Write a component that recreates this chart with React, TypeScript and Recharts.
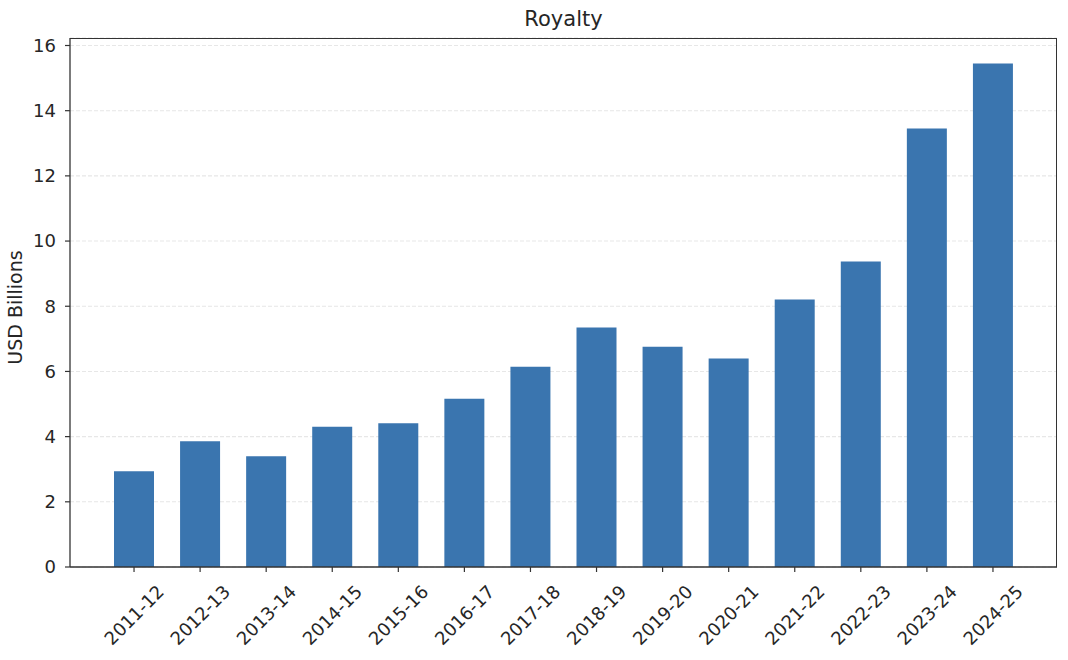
import { BarChart, Bar, XAxis, YAxis, CartesianGrid } from "recharts";

const years = [
  "2011-12", "2012-13", "2013-14", "2014-15", "2015-16", "2016-17", "2017-18",
  "2018-19", "2019-20", "2020-21", "2021-22", "2022-23", "2023-24", "2024-25",
];
const royalty = [2.94, 3.86, 3.4, 4.3, 4.41, 5.16, 6.14, 7.35, 6.76, 6.4, 8.21, 9.37, 13.45, 15.45];
const yTicks = [0, 2, 4, 6, 8, 10, 12, 14, 16];

const data = years.map((year, i) => ({ year, royalty: royalty[i] }));

const FONT = "'DejaVu Sans', sans-serif";
const INK = "#262626";
const SPINE = "#333333";

function XTick(props: any) {
  const { x, y, payload } = props;
  return (
    <g transform={`translate(${x},${y + 41})`}>
      <text
        transform="rotate(-45)"
        textAnchor="middle"
        dominantBaseline="central"
        fontFamily={FONT}
        fontSize={18}
        fill={INK}
      >
        {payload.value}
      </text>
    </g>
  );
}

function YLabel(props: any) {
  const vb = props.viewBox;
  const cx = vb.x + 15;
  const cy = vb.y + vb.height / 2 + 5;
  return (
    <text
      x={cx}
      y={cy}
      transform={`rotate(-90 ${cx} ${cy})`}
      textAnchor="middle"
      dominantBaseline="central"
      fontFamily={FONT}
      fontSize={19}
      fill={INK}
    >
      USD Billions
    </text>
  );
}

export default function App() {
  return (
    <div style={{ position: "absolute", left: 0, top: 0, width: 1068, height: 660, background: "#fff" }}>
      <div
        style={{
          position: "absolute",
          left: 70,
          width: 987,
          top: 7,
          textAlign: "center",
          fontFamily: FONT,
          fontSize: 21,
          color: INK,
          lineHeight: "normal",
        }}
      >
        Royalty
      </div>
      <BarChart width={1068} height={660} data={data} margin={{ top: 38, right: 11, bottom: 0, left: 0 }}>
        <XAxis
          dataKey="year"
          height={93}
          interval={0}
          padding={{ left: 31, right: 31 }}
          tick={<XTick />}
          tickSize={5}
          axisLine={{ stroke: SPINE, strokeWidth: 1.3 }}
          tickLine={{ stroke: SPINE, strokeWidth: 1.2 }}
        />
        <YAxis
          width={70}
          domain={[0, 16.23]}
          ticks={yTicks}
          allowDataOverflow
          tickSize={5}
          tickMargin={9}
          tick={{ fontFamily: FONT, fontSize: 18, fill: INK }}
          axisLine={{ stroke: SPINE, strokeWidth: 1.3 }}
          tickLine={{ stroke: SPINE, strokeWidth: 1.2 }}
          label={{ content: <YLabel /> }}
        />
        <Bar dataKey="royalty" fill="#3a75af" barSize={40} isAnimationActive={false} />
        <CartesianGrid
          vertical={false}
          stroke="#b0b0b0"
          strokeOpacity={0.3}
          strokeWidth={1.1}
          strokeDasharray="4 2"
        />
      </BarChart>
      {/* top and right spines of the matplotlib-style frame */}
      <div
        style={{
          position: "absolute",
          left: 70,
          top: 37.5,
          width: 987,
          height: 529,
          borderTop: `1.3px solid ${SPINE}`,
          borderRight: `1.3px solid ${SPINE}`,
          boxSizing: "border-box",
          pointerEvents: "none",
        }}
      />
    </div>
  );
}
